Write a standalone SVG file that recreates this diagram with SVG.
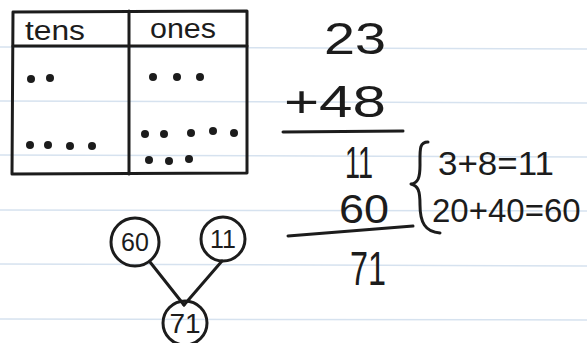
<svg xmlns="http://www.w3.org/2000/svg" width="587" height="343" viewBox="0 0 587 343">
<style>
.rule{stroke:#d6e2ef;stroke-width:1.5}
.ink{stroke:#1c1c1c;stroke-width:3;fill:none;stroke-linecap:round;stroke-linejoin:round}
.dot{fill:#1c1c1c}
.t{font-family:"Liberation Sans",Arial,sans-serif;fill:#1c1c1c}
</style>
<rect width="587" height="343" fill="#ffffff"/>
<g id="paper-lines">
<line class="rule" x1="0" y1="47" x2="587" y2="49"/>
<line class="rule" x1="0" y1="101" x2="587" y2="103"/>
<line class="rule" x1="0" y1="155" x2="587" y2="157"/>
<line class="rule" x1="0" y1="210" x2="587" y2="211"/>
<line class="rule" x1="0" y1="264" x2="587" y2="266"/>
<line class="rule" x1="0" y1="319" x2="587" y2="320"/>
</g>
<g id="place-value-table">
<path class="ink" d="M13 12 L12 174 L247 173 L247 11 Z"/>
<line class="ink" x1="13" y1="46" x2="247" y2="46"/>
<line class="ink" x1="129" y1="11" x2="129" y2="174"/>
<text class="t" x="25" y="40" font-size="27" textLength="60" lengthAdjust="spacingAndGlyphs">tens</text>
<text class="t" x="150" y="38" font-size="27" textLength="66" lengthAdjust="spacingAndGlyphs">ones</text>
<g class="dot">
<circle cx="31" cy="79" r="4"/><circle cx="50" cy="78" r="4"/>
<circle cx="30" cy="145" r="4"/><circle cx="48" cy="145" r="4"/><circle cx="70" cy="146" r="4"/><circle cx="92" cy="146" r="4"/>
<circle cx="153" cy="77" r="4"/><circle cx="177" cy="77" r="4"/><circle cx="200" cy="77" r="4"/>
<circle cx="145" cy="134" r="4"/><circle cx="164" cy="134" r="4"/><circle cx="191" cy="133" r="4"/><circle cx="213" cy="131" r="4"/><circle cx="234" cy="133" r="4"/>
<circle cx="149" cy="160" r="4"/><circle cx="169" cy="161" r="4"/><circle cx="189" cy="159" r="4"/>
</g>
</g>
<g id="column-addition">
<text class="t" x="324" y="54" font-size="45" textLength="62" lengthAdjust="spacingAndGlyphs">23</text>
<text class="t" x="284" y="117" font-size="45" textLength="102" lengthAdjust="spacingAndGlyphs">+48</text>
<path class="ink" d="M283 132 L403 131"/>
<text class="t" x="345" y="178" font-size="45" textLength="28" lengthAdjust="spacingAndGlyphs">11</text>
<text class="t" x="339" y="223" font-size="41" textLength="50" lengthAdjust="spacingAndGlyphs">60</text>
<path class="ink" d="M288 236 L413 226"/>
<text class="t" x="350" y="285" font-size="49" textLength="36" lengthAdjust="spacingAndGlyphs">71</text>
<path class="ink" d="M428 142 C419 142 420 150 420 165 C420 178 418 183 411 184 C418 186 420 190 420 205 C420 222 425 232 440 233"/>
<text class="t" x="438" y="175" font-size="33" textLength="116" lengthAdjust="spacingAndGlyphs">3+8=11</text>
<text class="t" x="432" y="222" font-size="33">20+40=60</text>
</g>
<g id="connectors">
<path class="ink" d="M150 262 L184 305"/>
<path class="ink" d="M222 261 L184 305"/>
</g>
<g id="node-60">
<circle class="ink" cx="135" cy="242" r="24"/>
<text class="t" x="135" y="251" font-size="25" text-anchor="middle">60</text>
</g>
<g id="node-11">
<circle class="ink" cx="223" cy="239" r="22"/>
<text class="t" x="223" y="248" font-size="25" text-anchor="middle">11</text>
</g>
<g id="node-71">
<circle class="ink" cx="185" cy="323" r="22"/>
<text class="t" x="185" y="333" font-size="28" text-anchor="middle">71</text>
</g>
</svg>
